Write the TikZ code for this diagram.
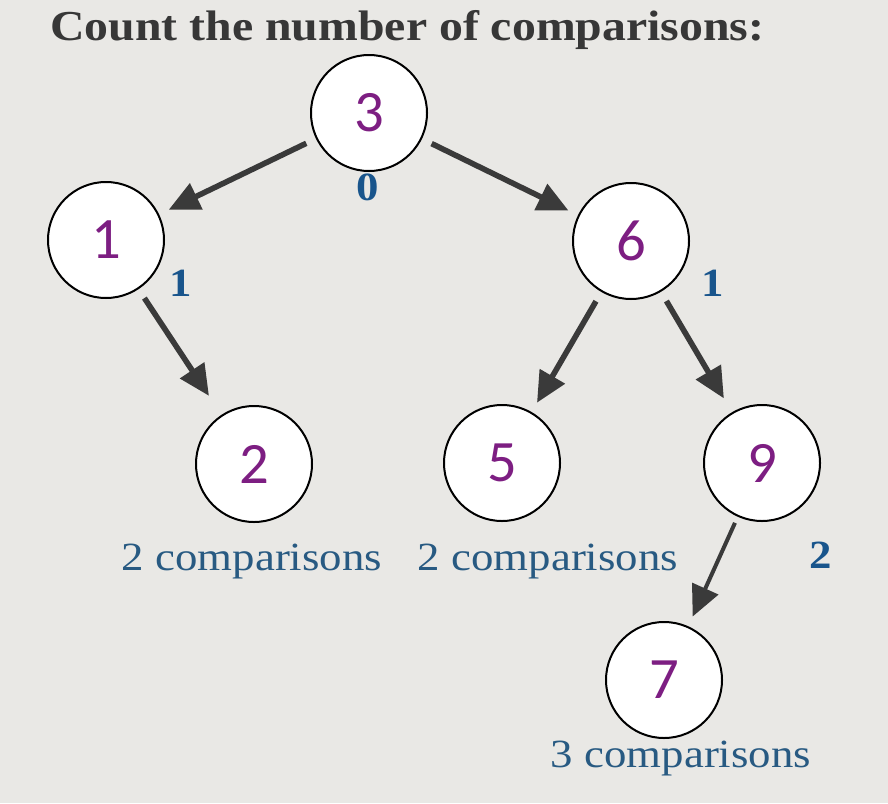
\documentclass[tikz,border=0pt]{standalone}
\usepackage{fontspec}
\usetikzlibrary{arrows.meta}
\setmainfont{Liberation Serif}[FakeStretch=1.12]
\newfontfamily\keyfont{Carlito}
\definecolor{paper}{RGB}{233,232,229}
\definecolor{keypurple}{RGB}{125,30,130}
\definecolor{lvlblue}{RGB}{25,85,140}
\definecolor{cmpblue}{RGB}{40,90,130}
\definecolor{arrowgray}{RGB}{58,58,58}
\definecolor{titlegray}{RGB}{55,55,55}

\begin{document}
\begin{tikzpicture}[x=0.75pt,y=-0.75pt,->,>={Triangle[length=23pt,width=21pt]}]
\tikzstyle{key}=[circle,draw=black,fill=white,line width=1.5pt,minimum size=87pt,inner sep=0pt,text=keypurple,font=\keyfont\fontsize{44}{44}\selectfont]
\tikzstyle{link}=[draw=arrowgray,line width=4.2pt,shorten <=8pt,shorten >=8pt]
\tikzstyle{lvl}=[text=lvlblue,inner sep=0pt,font={\fontsize{30}{30}\bfseries}]
\tikzstyle{cmp}=[text=cmpblue,inner sep=0pt,anchor=base,font={\fontsize{30}{30}\selectfont}]
\useasboundingbox (0,0) rectangle (888,803);
\fill[paper] (0,0) rectangle (888,803);
\node[anchor=base west,inner sep=0pt,text=titlegray,font={\fontsize{32}{32}\bfseries}] (title) at (50,40) {Count the number of comparisons:};
% the tree
\node[key] (n3) at (369,113) {3};
\node[key] (n1) at (106,240) {1};
\node[key] (n6) at (631,241) {6};
\node[key] (n2) at (254,464) {2};
\node[key] (n5) at (502,463) {5};
\node[key] (n9) at (762,463) {9};
\node[key] (n7) at (664,680) {7};
\path
(n3) edge[link] (n1)
(n3) edge[link] (n6)
(n1) edge[link,shorten >=17pt] (n2)
(n6) edge[link] (n5)
(n6) edge[link,shorten >=12pt] (n9)
(n9) edge[link,line width=3pt,shorten <=5pt] (n7);
% comparisons per level
\node[lvl] (l0) at (368,187) {0};
\node[lvl] (l1a) at (181,283) {1};
\node[lvl] (l1b) at (713,283) {1};
\node[lvl] (l2) at (821,555) {2};
\node[cmp] (c2) at (252,570) {2 comparisons};
\node[cmp] (c5) at (548,570) {2 comparisons};
\node[cmp] (c7) at (681,767) {3 comparisons};
\end{tikzpicture}
\end{document}
